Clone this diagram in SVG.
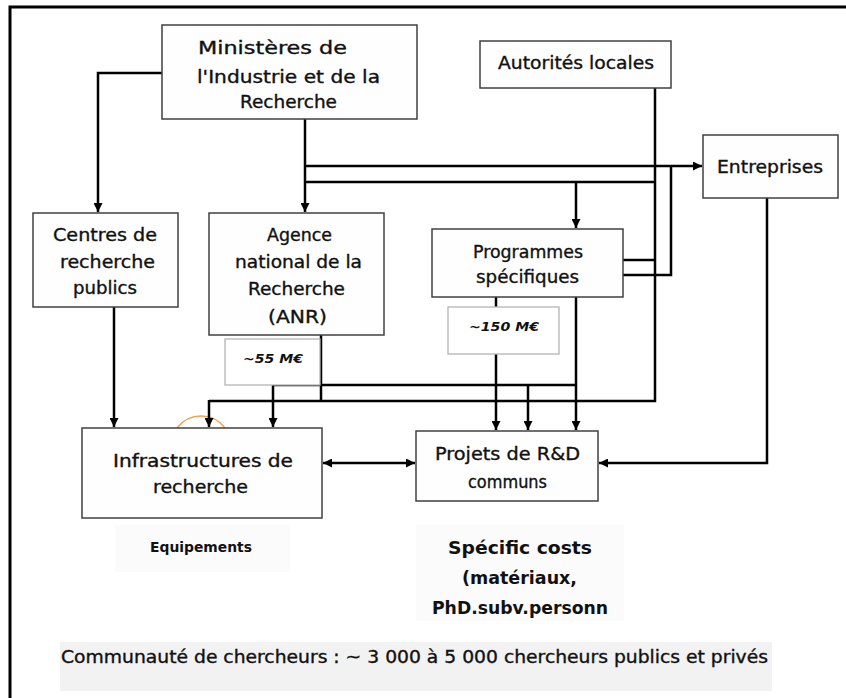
<svg xmlns="http://www.w3.org/2000/svg" width="846" height="698" viewBox="0 0 846 698">
<style>
.box{fill:#fefefe;stroke:#404040;stroke-width:1.5}
.gbox{fill:#ffffff;stroke:#b4b4b4;stroke-width:1.3}
.t{font-family:"DejaVu Sans","Liberation Sans",sans-serif;font-size:17px;fill:#111;stroke:#111;stroke-width:0.35}
.b{font-family:"DejaVu Sans","Liberation Sans",sans-serif;font-weight:bold;fill:#111}
.c{fill:none;stroke:#000;stroke-width:2.5}
.ca{fill:none;stroke:#000;stroke-width:2.5;marker-end:url(#ah)}
</style>
<defs>
<marker id="ah" markerUnits="userSpaceOnUse" viewBox="0 0 10 10" refX="10" refY="5" markerWidth="9" markerHeight="9" orient="auto-start-reverse">
<path d="M0,0 L10,5 L0,10 z" fill="#000"/>
</marker>
</defs>
<rect width="846" height="698" fill="#fff"/>
<path d="M10,698 V7 H846" fill="none" stroke="#000" stroke-width="3"/>

<rect x="115" y="525" width="175" height="47" fill="#fbfbfb"/>
<rect x="416" y="525" width="208" height="96" fill="#fbfbfb"/>
<rect x="60" y="642" width="712" height="49" fill="#f2f2f2"/>

<path d="M177,428 A30,30 0 0 1 225,428" fill="none" stroke="#f3a24c" stroke-width="1.3"/>

<g id="connectors">
<path class="ca" d="M162,73 H98 V212"/>
<path class="ca" d="M305,119 V212"/>
<path class="ca" d="M305,166 H702"/>
<path class="c" d="M305,182 H655"/>
<path class="ca" d="M576,182 V228"/>
<path class="c" d="M655,88 V401 H209"/>
<path class="ca" d="M209,400 V427"/>
<path class="c" d="M671,166 V275 H623"/>
<path class="c" d="M623,260 H655"/>
<path class="c" d="M321,335 V401"/>
<path class="c" d="M576,385 H273"/>
<path class="ca" d="M273,384 V427"/>
<path class="ca" d="M114,307 V427"/>
<path class="c" d="M496,297 V307"/>
<path class="ca" d="M496,354 V430"/>
<path class="ca" d="M528,384 V430"/>
<path class="ca" d="M576,297 V430"/>
<path class="ca" d="M767,198 V463 H599"/>
<path class="ca" d="M323,463 H415" style="marker-start:url(#ah)"/>
</g>

<g id="ministeres">
<rect class="box" x="162" y="25" width="255" height="94"/>
<text class="t" x="198" y="54" textLength="149" lengthAdjust="spacingAndGlyphs">Ministères de</text>
<text class="t" x="197" y="83" textLength="183" lengthAdjust="spacingAndGlyphs">l'Industrie et de la</text>
<text class="t" x="240" y="108" textLength="97" lengthAdjust="spacingAndGlyphs">Recherche</text>
</g>

<g id="autorites">
<rect class="box" x="480" y="41" width="191" height="47"/>
<text class="t" x="498" y="69" textLength="156" lengthAdjust="spacingAndGlyphs">Autorités locales</text>
</g>

<g id="entreprises">
<rect class="box" x="703" y="135" width="135" height="63"/>
<text class="t" x="717" y="173" textLength="106" lengthAdjust="spacingAndGlyphs">Entreprises</text>
</g>

<g id="centres">
<rect class="box" x="33" y="213" width="145" height="94"/>
<text class="t" x="53" y="241" textLength="104" lengthAdjust="spacingAndGlyphs">Centres de</text>
<text class="t" x="60" y="268" textLength="95" lengthAdjust="spacingAndGlyphs">recherche</text>
<text class="t" x="73" y="294" textLength="64" lengthAdjust="spacingAndGlyphs">publics</text>
</g>

<g id="anr">
<rect class="box" x="209" y="213" width="175" height="122"/>
<text class="t" x="267" y="241" textLength="65" lengthAdjust="spacingAndGlyphs">Agence</text>
<text class="t" x="235" y="268" textLength="127" lengthAdjust="spacingAndGlyphs">national de la</text>
<text class="t" x="248" y="295" textLength="97" lengthAdjust="spacingAndGlyphs">Recherche</text>
<text class="t" x="268" y="323" textLength="59" lengthAdjust="spacingAndGlyphs">(ANR)</text>
</g>

<g id="budget-anr">
<rect class="gbox" x="225" y="339" width="95" height="46"/>
<text class="b" x="243" y="363" font-size="13" font-style="italic" textLength="60" lengthAdjust="spacingAndGlyphs">~55 M€</text>
</g>

<g id="programmes">
<rect class="box" x="432" y="229" width="191" height="68"/>
<text class="t" x="473" y="258" textLength="110" lengthAdjust="spacingAndGlyphs">Programmes</text>
<text class="t" x="476" y="283" textLength="103" lengthAdjust="spacingAndGlyphs">spécifiques</text>
</g>

<g id="budget-programmes">
<rect class="gbox" x="448" y="307" width="111" height="47"/>
<text class="b" x="469" y="331" font-size="13" font-style="italic" textLength="70" lengthAdjust="spacingAndGlyphs">~150 M€</text>
</g>

<g id="infrastructures">
<rect class="box" x="82" y="428" width="240" height="90"/>
<text class="t" x="113" y="467" textLength="180" lengthAdjust="spacingAndGlyphs">Infrastructures de</text>
<text class="t" x="153" y="493" textLength="95" lengthAdjust="spacingAndGlyphs">recherche</text>
</g>

<g id="projets">
<rect class="box" x="416" y="431" width="182" height="70"/>
<text class="t" x="435" y="460" textLength="145" lengthAdjust="spacingAndGlyphs">Projets de R&amp;D</text>
<text class="t" x="468" y="488" textLength="79" lengthAdjust="spacingAndGlyphs">communs</text>
</g>

<g id="equipements">
<text class="b" x="150" y="552" font-size="14" textLength="102" lengthAdjust="spacingAndGlyphs">Equipements</text>
</g>

<g id="couts">
<text class="b" x="448" y="554" font-size="18" textLength="144" lengthAdjust="spacingAndGlyphs">Spécific costs</text>
<text class="b" x="462" y="584" font-size="18" textLength="115" lengthAdjust="spacingAndGlyphs">(matériaux,</text>
<text class="b" x="432" y="614" font-size="18" textLength="176" lengthAdjust="spacingAndGlyphs">PhD.subv.personn</text>
</g>

<g id="communaute">
<text class="t" x="61" y="663" font-size="18" textLength="707" lengthAdjust="spacingAndGlyphs">Communauté de chercheurs : ~ 3 000 à 5 000 chercheurs publics et privés</text>
</g>
</svg>
